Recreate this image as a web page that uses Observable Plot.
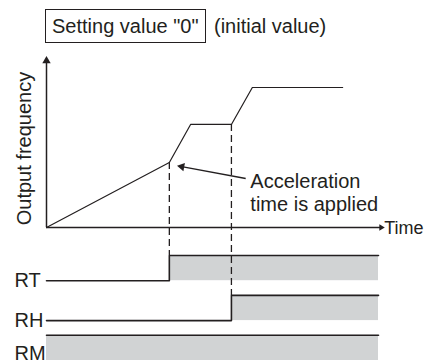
<!DOCTYPE html>
<html><head><meta charset="utf-8">
<script src="https://cdn.jsdelivr.net/npm/d3@7"></script>
<script src="https://cdn.jsdelivr.net/npm/@observablehq/plot@0.6"></script>
<style>
html,body{margin:0;padding:0;background:#fff;}
body{width:424px;height:362px;overflow:hidden;font-family:"Liberation Sans",Arial,sans-serif;color:#231f20;}
#head{position:relative;height:50px;font-size:20px;}
#box{position:absolute;left:45px;top:9px;width:161px;height:34px;border:1px solid #231f20;box-sizing:border-box;padding-left:6px;line-height:32px;white-space:nowrap;}
#note{position:absolute;left:214px;top:10px;line-height:32px;white-space:nowrap;}
#chart svg{display:block;}
</style></head><body>
<div id="head"><span id="box"></span><span id="note"></span></div>
<div id="chart"></div>
<script>
// ---- texts ----
const titleBoxText = 'Setting value "0"';
const titleNote = "(initial value)";
const yAxisLabel = "Output frequency";
const xAxisLabel = "Time";
const annotationText = "Acceleration\ntime is applied";

// ---- output frequency curve (time units 0..100, frequency units 0..100) ----
const freqTime  = [0, 37, 43.4, 55.7, 62, 89.2];
const freqValue = [0, 46.4, 73.6, 73.6, 100, 100];

// ---- signals (same vertical units, placed below the time axis) ----
const signalNames  = ["RT", "RH", "RM"];
const signalOnTime = [37, 55.7, 0];
const signalLow    = [-38, -66.5, -95];
const signalHigh   = [-20, -48.5, -77];
const signalEnd = 100;

// ---- axes extents ----
const timeAxisEnd = 100.8;
const freqAxisEnd = 119;

// ---- annotation arrow ----
const annotTail = [60, 35];
const annotTip  = [38.9, 44.3];
const annotTextAt = [61.4, 12.1];

document.getElementById("box").textContent = titleBoxText;
document.getElementById("note").textContent = titleNote;

const W = 424, H = 312, mL = 46, mR = 46, mT = 37, mB = 2;
const xDomain = [0, 100], yDomain = [-95, 100];
const kx = (W - mL - mR) / (xDomain[1] - xDomain[0]);
const ky = (H - mT - mB) / (yDomain[1] - yDomain[0]);
const ink = "#231f20";
const gray = "#d1d3d4";

const freqRows = freqTime.map((t, i) => ({t, f: freqValue[i]}));
const sigRows = signalNames.map((name, i) => ({name, on: signalOnTime[i], low: signalLow[i], high: signalHigh[i]}));
const sigLineRows = sigRows.flatMap(s => {
  const pts = [];
  if (s.on > 0) pts.push({name: s.name, t: 0, v: s.low});
  pts.push({name: s.name, t: s.on, v: s.high});
  pts.push({name: s.name, t: signalEnd, v: s.high});
  return pts;
});
const dashRows = sigRows.filter(s => s.on > 0).map(s => ({t: s.on, top: freqValue[freqTime.indexOf(s.on)], bottom: s.high}));

// annotation arrowhead geometry
const dxp = (annotTip[0] - annotTail[0]) * kx;
const dyp = -(annotTip[1] - annotTail[1]) * ky;
const len = Math.hypot(dxp, dyp);
const ux = dxp / len, uy = dyp / len;
const headR = 4;
const tipOff = 2 * Math.sqrt(Math.PI * headR * headR / (3 * Math.sqrt(3)));
const headCenter = {t: annotTip[0] - tipOff * ux / kx, f: annotTip[1] + tipOff * uy / ky};
const headAngle = Math.atan2(ux, -uy) * 180 / Math.PI;

const chart = Plot.plot({
  width: W, height: H,
  marginLeft: mL, marginRight: mR, marginTop: mT, marginBottom: mB,
  x: {domain: xDomain, axis: null},
  y: {domain: yDomain, axis: null},
  style: {fontFamily: '"Liberation Sans", Arial, sans-serif', background: "transparent", overflow: "visible", color: ink},
  marks: [
    Plot.rect(sigRows, {x1: "on", x2: () => signalEnd, y1: "low", y2: "high", fill: gray}),
    Plot.ruleX(dashRows, {x: "t", y1: "top", y2: "bottom", stroke: ink, strokeWidth: 1.3, strokeDasharray: "7,4"}),
    Plot.line(sigLineRows, {x: "t", y: "v", z: "name", curve: "step-after", stroke: ink, strokeWidth: 1.6}),
    Plot.line(freqRows, {x: "t", y: "f", stroke: ink, strokeWidth: 1.2}),
    Plot.ruleX([0], {y1: 0, y2: freqAxisEnd, stroke: ink, strokeWidth: 1.5}),
    Plot.ruleY([0], {x1: 0, x2: timeAxisEnd, stroke: ink, strokeWidth: 1.5}),
    Plot.dot([{t: 0, f: freqAxisEnd}], {x: "t", y: "f", symbol: "triangle2", r: 4, fill: ink, stroke: "none"}),
    Plot.dot([{t: timeAxisEnd, f: 0}], {x: "t", y: "f", symbol: "triangle2", r: 3, rotate: 90, fill: ink, stroke: "none"}),
    Plot.link([0], {x1: () => annotTail[0], y1: () => annotTail[1], x2: () => headCenter.t, y2: () => headCenter.f, stroke: ink, strokeWidth: 1.3}),
    Plot.dot([headCenter], {x: "t", y: "f", symbol: "triangle2", r: headR, rotate: headAngle, fill: ink, stroke: "none"}),
    Plot.text([annotationText], {x: () => annotTextAt[0], y: () => annotTextAt[1], text: d => d, textAnchor: "start", lineAnchor: "bottom", lineHeight: 1.15, fontSize: 20, fill: ink}),
    Plot.text([xAxisLabel], {x: () => timeAxisEnd, y: () => 0, text: d => d, textAnchor: "start", lineAnchor: "bottom", dx: 3, dy: 6, fontSize: 18, fill: ink}),
    Plot.text([yAxisLabel], {frameAnchor: "left", y: () => 56.4, text: d => d, rotate: -90, textAnchor: "middle", lineAnchor: "bottom", dx: -16, fontSize: 20, fill: ink}),
    Plot.text(sigRows.filter(s => s.on > 0), {frameAnchor: "left", y: "low", text: "name", textAnchor: "start", lineAnchor: "bottom", dx: -32, dy: 6.5, fontSize: 20, fill: ink}),
    Plot.text(sigRows.filter(s => s.on === 0), {frameAnchor: "left", y: "low", text: "name", textAnchor: "start", lineAnchor: "bottom", dx: -32, dy: -1, fontSize: 20, fill: ink})
  ]
});
document.getElementById("chart").appendChild(chart);
</script>
</body></html>
